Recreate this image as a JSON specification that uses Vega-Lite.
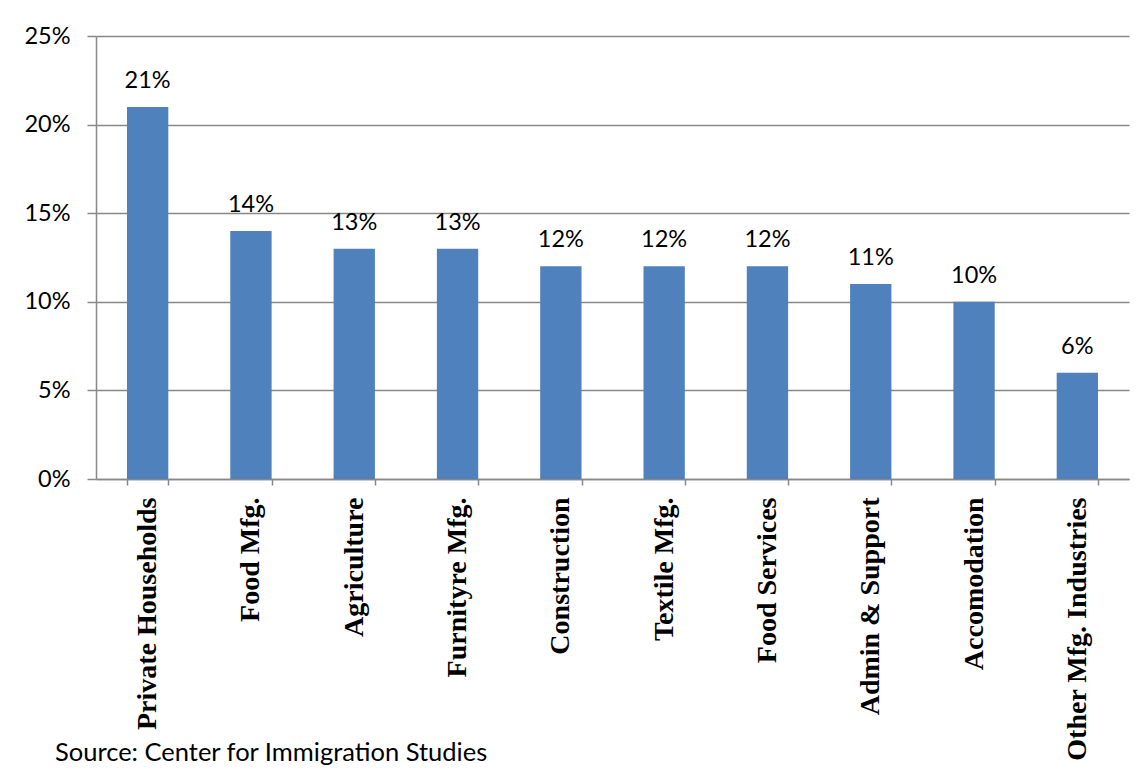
{
  "$schema": "https://vega.github.io/schema/vega-lite/v6.json",
  "autosize": "none",
  "width": 1033,
  "height": 443,
  "padding": {"left": 96, "top": 36, "right": 18, "bottom": 292},
  "background": "white",
  "data": {
    "values": [
      {"industry": "Private Households", "share": 0.21},
      {"industry": "Food Mfg.", "share": 0.14},
      {"industry": "Agriculture", "share": 0.13},
      {"industry": "Furnityre Mfg.", "share": 0.13},
      {"industry": "Construction", "share": 0.12},
      {"industry": "Textile Mfg.", "share": 0.12},
      {"industry": "Food Services", "share": 0.12},
      {"industry": "Admin & Support", "share": 0.11},
      {"industry": "Accomodation", "share": 0.10},
      {"industry": "Other Mfg. Industries", "share": 0.06}
    ]
  },
  "title": {
    "text": "Source: Center for Immigration Studies",
    "orient": "bottom",
    "anchor": "start",
    "frame": "group",
    "font": "Lato",
    "fontSize": 25.5,
    "fontWeight": "normal",
    "color": "black",
    "dx": -41,
    "offset": -20
  },
  "encoding": {
    "x": {
      "field": "industry",
      "type": "nominal",
      "sort": null,
      "scale": {"paddingInner": 0.6, "paddingOuter": 0.3},
      "axis": {
        "title": null,
        "labelAngle": -90,
        "labelAlign": "right",
        "labelBaseline": "middle",
        "labelFont": "Liberation Serif",
        "labelFontWeight": "bold",
        "labelFontSize": 28,
        "labelColor": "black",
        "labelPadding": 12,
        "tickBand": "extent",
        "tickSize": 6,
        "tickColor": "#888888",
        "tickWidth": 1.5,
        "domainColor": "#888888",
        "domainWidth": 1.5,
        "labelLimit": 400
      }
    },
    "y": {
      "field": "share",
      "type": "quantitative",
      "scale": {"domain": [0, 0.25]},
      "axis": {
        "title": null,
        "values": [0, 0.05, 0.1, 0.15, 0.2, 0.25],
        "format": ".0%",
        "labelFont": "Lato",
        "labelFontSize": 23.5,
        "labelColor": "black",
        "labelPadding": 17,
        "tickSize": 9,
        "tickColor": "#888888",
        "tickWidth": 1.5,
        "domainColor": "#888888",
        "domainWidth": 1.5,
        "grid": true,
        "gridColor": "#888888",
        "gridWidth": 1.5
      }
    }
  },
  "layer": [
    {"mark": {"type": "bar", "color": "#4F81BD"}},
    {
      "mark": {"type": "text", "font": "Lato", "fontSize": 23.5, "color": "black", "baseline": "alphabetic", "dy": -19},
      "encoding": {"text": {"field": "share", "type": "quantitative", "format": ".0%"}}
    }
  ],
  "config": {"view": {"stroke": null}}
}
